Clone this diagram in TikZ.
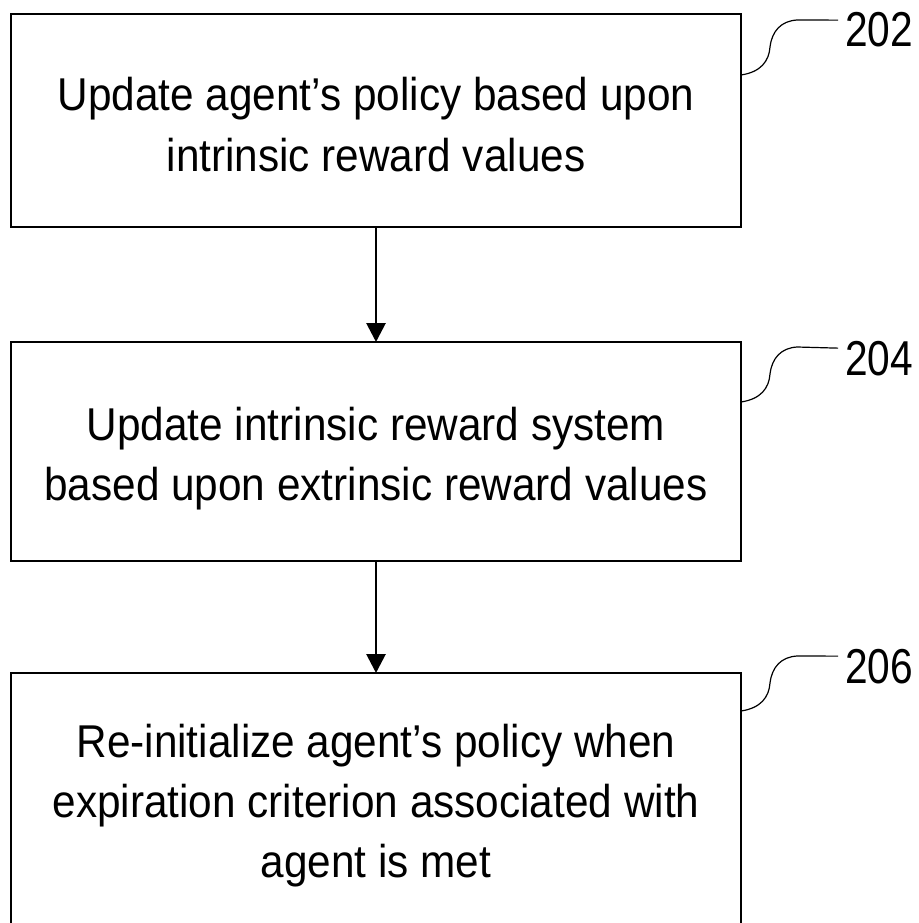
\documentclass[tikz,border=0pt]{standalone}
\usepackage{fontspec}
\setmainfont{Liberation Sans}[FakeStretch=0.92]
\newfontfamily\numfont{Liberation Sans}[FakeStretch=0.83]
\usetikzlibrary{arrows.meta,calc}
\begin{document}
\begin{tikzpicture}[x=1pt,y=-1pt,
  boxstyle/.style={draw, line width=2.8pt, minimum width=730pt, inner sep=0pt, outer sep=0pt},
  txt/.style={font=\fontsize{46}{60}\selectfont, align=center, anchor=base, inner sep=0pt},
  lbl/.style={font=\numfont\fontsize{49}{55}\selectfont, anchor=base west, inner sep=0pt},
  lead/.style={line width=1.2pt},
  flow/.style={line width=2.8pt, -{Triangle[length=19pt,width=19pt]}}]
\useasboundingbox (0,0) rectangle (918,923);
% boxes
\node[boxstyle, minimum height=213pt] (b1) at (376,120.5) {};
\node[boxstyle, minimum height=219pt] (b2) at (376,451.5) {};
\begin{scope}
  \clip (0,0) rectangle (918,923);
  \node[boxstyle, minimum height=280pt] (b3) at (376,813) {};
\end{scope}
% texts (base anchor = baseline of the last line)
\node[txt] (t1) at (376,171) {Update agent’s policy based upon\\intrinsic reward values};
\node[txt] (t2) at (376,500) {Update intrinsic reward system\\based upon extrinsic reward values};
\node[txt] (t3) at (376,877) {Re-initialize agent’s policy when\\expiration criterion associated with\\agent is met};
% arrows
\draw[flow] (b1.south) -- (b2.north);
\draw[flow] (b2.south) -- (b3.north);
% reference labels
\node[lbl] (L1) at (845,47) {202};
\node[lbl] (L2) at (845,375) {204};
\node[lbl] (L3) at (845,683) {206};
\coordinate (s1) at ($(b1.north east)+(0,61)$);
\coordinate (s2) at ($(b2.north east)+(0,60)$);
\coordinate (s3) at ($(b3.north east)+(0,38)$);
\foreach \i in {1,2,3}{
  \draw[lead] (s\i) .. controls ($(s\i)+(20,-3)$) and ($(s\i)+(28,-14)$) .. ($(s\i)+(29,-28)$)
     .. controls ($(s\i)+(31,-44)$) and ($(s\i)+(40,-54)$) .. ($(s\i)+(56,-55)$)
     -- ($(L\i.west)+(-7,-10)$);
}
\end{tikzpicture}
\end{document}
